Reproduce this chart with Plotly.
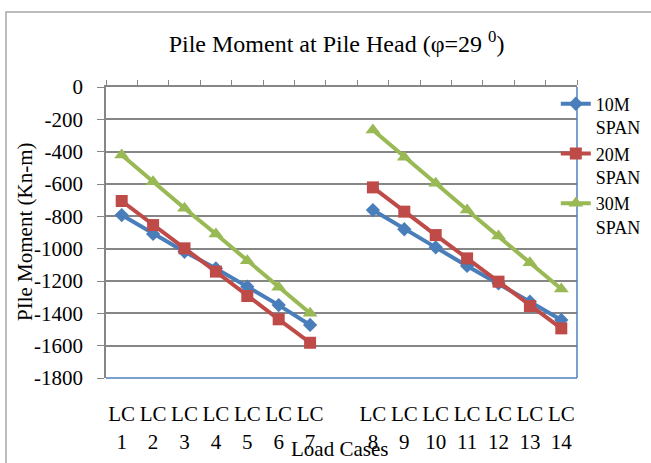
import plotly.graph_objects as go

categories = ["LC 1", "LC 2", "LC 3", "LC 4", "LC 5", "LC 6", "LC 7", " ",
              "LC 8", "LC 9", "LC 10", "LC 11", "LC 12", "LC 13", "LC 14"]
case_numbers = ["1", "2", "3", "4", "5", "6", "7", "",
                "8", "9", "10", "11", "12", "13", "14"]
case_prefix = ["LC", "LC", "LC", "LC", "LC", "LC", "LC", "",
               "LC", "LC", "LC", "LC", "LC", "LC", "LC"]
data_cases = ["LC 1", "LC 2", "LC 3", "LC 4", "LC 5", "LC 6", "LC 7",
              "LC 8", "LC 9", "LC 10", "LC 11", "LC 12", "LC 13", "LC 14"]

span10 = [-792, -909, -1019, -1122, -1235, -1349, -1472,
          -761, -880, -992, -1107, -1214, -1328, -1441]
span20 = [-705, -854, -998, -1142, -1293, -1437, -1582,
          -621, -771, -916, -1060, -1204, -1355, -1493]
span30 = [-420, -586, -750, -909, -1074, -1239, -1400,
          -266, -435, -596, -761, -922, -1087, -1250]

y_ticks = [0, -200, -400, -600, -800, -1000, -1200, -1400, -1600, -1800]
y_ticklabels = ["0", "-200", "-400", "-600", "-800", "-1000", "-1200", "-1400", "-1600", "-1800"]

FONT = "Liberation Serif"
BLUE = "#4A7EBB"
RED = "#BE4B48"
GREEN = "#98B954"
GRAY = "#868686"

fig = go.Figure()

def add_series(x, y, name, color, symbol, size):
    # split at the gap so the two groups are not joined
    fig.add_trace(go.Scatter(
        x=x[:7], y=y[:7], name=name, mode="lines+markers",
        line=dict(color=color, width=4),
        marker=dict(symbol=symbol, size=size, color=color),
        legendgroup=name, showlegend=True))
    fig.add_trace(go.Scatter(
        x=x[7:], y=y[7:], name=name, mode="lines+markers",
        line=dict(color=color, width=4),
        marker=dict(symbol=symbol, size=size, color=color),
        legendgroup=name, showlegend=False))

add_series(data_cases, span10, "10M<br>SPAN", BLUE, "diamond", 11)
add_series(data_cases, span20, "20M<br>SPAN", RED, "square", 12)
add_series(data_cases, span30, "30M<br>SPAN", GREEN, "triangle-up", 13)

# invisible traces to anchor the overlay axes
fig.add_trace(go.Scatter(x=categories, y=[-900]*len(categories), xaxis="x2",
                         showlegend=False, hoverinfo="skip", mode="markers",
                         marker=dict(opacity=0)))
fig.add_trace(go.Scatter(x=categories, y=[-900]*len(categories), xaxis="x3",
                         showlegend=False, hoverinfo="skip", mode="markers",
                         marker=dict(opacity=0)))

cat_range = [-0.5, len(categories) - 0.5]

fig.update_layout(
    width=651, height=463,
    margin=dict(l=106, r=74, t=87, b=85, autoexpand=False),
    paper_bgcolor="white", plot_bgcolor="white",
    font=dict(family=FONT, size=21, color="black"),
    title=dict(text="Pile Moment at Pile Head (φ=29 <sup>0</sup>)",
               x=0.517, xanchor="center", y=0.905, yanchor="middle",
               font=dict(family=FONT, size=24, color="black")),
    xaxis=dict(type="category", categoryorder="array", categoryarray=categories,
               range=cat_range, tickvals=categories, ticktext=case_numbers,
               showgrid=False, showline=False, ticks="", zeroline=False,
               automargin=False,
               ticklabelstandoff=49, tickfont=dict(family=FONT, size=21)),
    xaxis3=dict(type="category", categoryorder="array", categoryarray=categories,
                range=cat_range, overlaying="x", side="bottom", anchor="y",
                tickvals=categories, ticktext=case_prefix, automargin=False,
                showgrid=False, showline=False, ticks="", zeroline=False,
                ticklabelstandoff=21, tickfont=dict(family=FONT, size=21)),
    xaxis2=dict(type="category", categoryorder="array", categoryarray=categories,
                range=cat_range, overlaying="x", side="top", anchor="y",
                showticklabels=False, showline=True, linecolor=GRAY, linewidth=1.5,
                ticks="outside", tickson="boundaries", ticklen=5, tickwidth=1.2,
                tickcolor=GRAY, showgrid=False, zeroline=False, automargin=False),
    yaxis=dict(range=[-1800, 0], tickvals=y_ticks, ticktext=y_ticklabels,
               showgrid=True, gridcolor=GRAY, gridwidth=1.5, zeroline=False,
               showline=True, linecolor=GRAY, linewidth=1.5,
               ticks="outside", ticklen=7, tickwidth=1.2, tickcolor=GRAY,
               ticklabelstandoff=10, automargin=False,
               tickfont=dict(family=FONT, size=21)),
    legend=dict(x=0.955, xanchor="left", y=1.005, yanchor="top",
                bgcolor="rgba(0,0,0,0)", font=dict(family=FONT, size=18),
                valign="top", tracegroupgap=0, itemwidth=30),
    showlegend=True,
)

# axis titles
fig.add_annotation(text="Load Cases", xref="paper", yref="paper",
                   x=(339 - 106) / 471, y=(378 - 449) / 291,
                   xanchor="center", yanchor="middle", showarrow=False,
                   font=dict(family=FONT, size=21, color="black"))
fig.add_annotation(text="PIle Moment (Kn-m)", xref="paper", yref="paper",
                   x=(25 - 106) / 471, y=(378 - 232) / 291, textangle=-90,
                   xanchor="center", yanchor="middle", showarrow=False,
                   font=dict(family=FONT, size=21, color="black"))

# plot-area border (blue right and bottom)
fig.add_shape(type="line", xref="paper", yref="paper", x0=1, x1=1, y0=0, y1=1,
              line=dict(color="#4F81BD", width=1.5), layer="above")
fig.add_shape(type="line", xref="paper", yref="paper", x0=0, x1=1, y0=0, y1=0,
              line=dict(color="#4F81BD", width=1.5), layer="above")

# outer chart-area border
fig.add_shape(type="rect", xref="paper", yref="paper",
              x0=(6 - 106) / 471, x1=(700 - 106) / 471,
              y0=(378 - 520) / 291, y1=(378 - 12) / 291,
              line=dict(color="#A6A6A6", width=1.5), fillcolor="rgba(0,0,0,0)",
              layer="below")

fig.write_html("out.html")
